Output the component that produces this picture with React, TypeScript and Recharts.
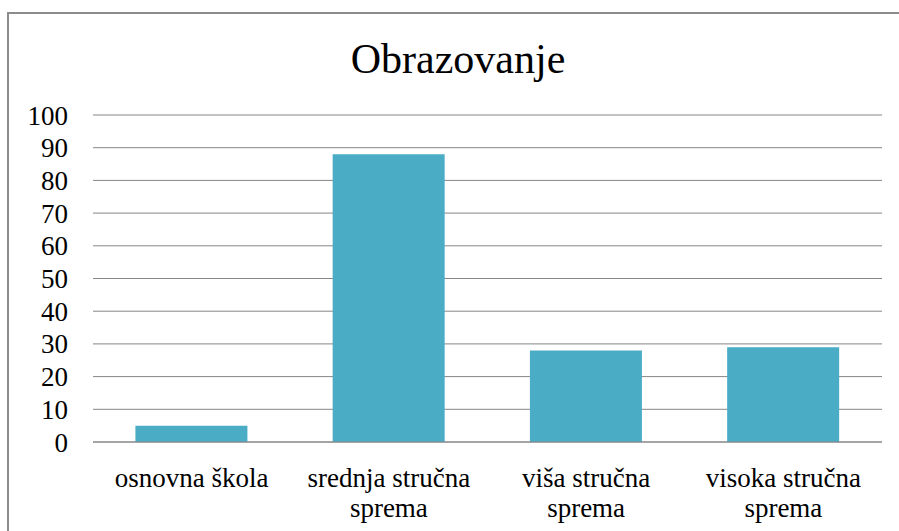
import React from "react";
import { BarChart, Bar, XAxis, YAxis, CartesianGrid } from "recharts";

const categories = ["osnovna škola", "srednja stručna sprema", "viša stručna sprema", "visoka stručna sprema"];
const values = [5, 88, 28, 29];
const yTicks = [0, 10, 20, 30, 40, 50, 60, 70, 80, 90, 100];
const title = "Obrazovanje";

const data = categories.map((c, i) => ({ name: c, value: values[i] }));

const FONT = "'Liberation Serif', 'Times New Roman', serif";

function wrap(label: string, maxChars: number): string[] {
  const words = label.split(" ");
  const lines: string[] = [];
  let cur = "";
  for (const w of words) {
    const t = cur ? cur + " " + w : w;
    if (t.length > maxChars && cur) {
      lines.push(cur);
      cur = w;
    } else {
      cur = t;
    }
  }
  if (cur) lines.push(cur);
  return lines;
}

const XTick = (props: any) => {
  const { x, y, payload } = props;
  const lines = wrap(String(payload.value), 15);
  return (
    <g>
      {lines.map((l, i) => (
        <text
          key={i}
          x={x}
          y={y + 45 + i * 30}
          textAnchor="middle"
          fontFamily={FONT}
          fontSize={27}
          fill="#000"
        >
          {l}
        </text>
      ))}
    </g>
  );
};

export default function App() {
  return (
    <div style={{ position: "absolute", left: 0, top: 0, width: 899, height: 531, overflow: "hidden", background: "#fff" }}>
      <div
        style={{
          position: "absolute",
          left: 7,
          top: 12,
          width: 1000,
          height: 1000,
          border: "2px solid #8c8c8c",
          boxSizing: "border-box",
        }}
      />
      <div
        style={{
          position: "absolute",
          left: 0,
          top: 34,
          width: 916,
          textAlign: "center",
          fontFamily: FONT,
          fontSize: 42,
          color: "#000",
          lineHeight: "50px",
        }}
      >
        {title}
      </div>
      <div style={{ position: "absolute", left: 0, top: 0 }}>
        <BarChart
          width={899}
          height={531}
          data={data}
          margin={{ top: 115, right: 17, bottom: 0, left: 0 }}
          barCategoryGap="21.5%"
        >
          <CartesianGrid vertical={false} stroke="#868686" strokeWidth={1} />
          <XAxis
            dataKey="name"
            axisLine={{ stroke: "#868686" }}
            tickLine={false}
            tickSize={0}
            tickMargin={0}
            tick={<XTick />}
            interval={0}
            height={89}
          />
          <YAxis
            domain={[0, 100]}
            ticks={yTicks}
            width={93}
            axisLine={false}
            tickLine={false}
            tickSize={0}
            tickMargin={25}
            tick={{ fontFamily: FONT, fontSize: 27, fill: "#000" }}
            interval={0}
          />
          <Bar dataKey="value" fill="#4BACC6" isAnimationActive={false} />
        </BarChart>
      </div>
    </div>
  );
}
